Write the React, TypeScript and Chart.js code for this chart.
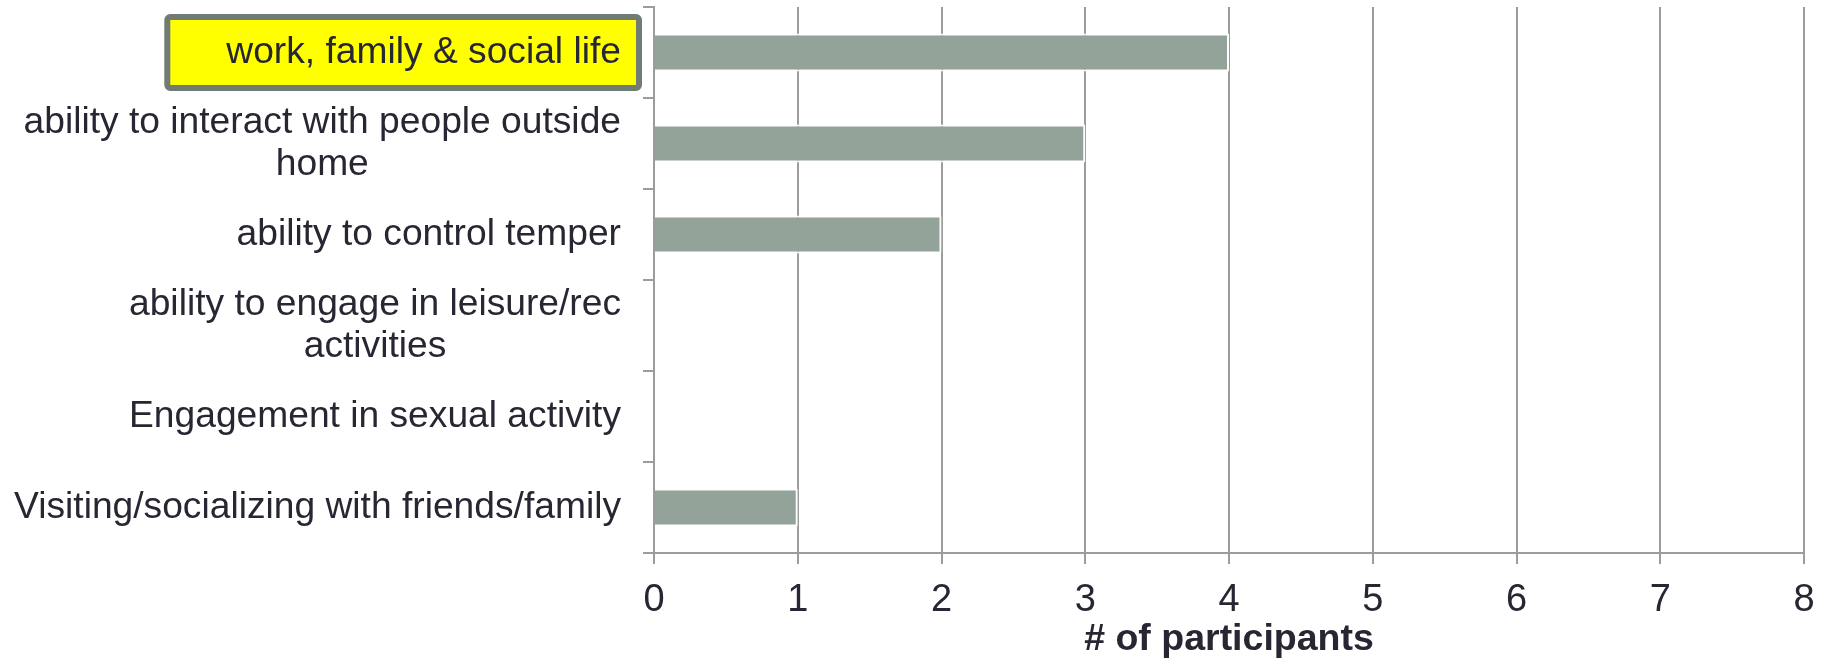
import React, { useEffect, useRef } from "react";
import { Chart, registerables } from "chart.js";

Chart.register(...registerables);

// Category labels (one entry per line of the wrapped label)
const categories: string[][] = [
  ["work, family & social life"],
  ["ability to interact with people outside", "home"],
  ["ability to control temper"],
  ["ability to engage in leisure/rec", "activities"],
  ["Engagement in sexual activity"],
  ["Visiting/socializing with friends/family"],
];

// Number of participants per category
const participants: number[] = [4, 3, 2, 0, 0, 1];

// Value axis ticks
const xTicks: number[] = [0, 1, 2, 3, 4, 5, 6, 7, 8];

// Categories shown with a highlighted label
const highlighted: number[] = [0];

const xTitle = "# of participants";

const FONT = "'Liberation Sans', Arial, Helvetica, sans-serif";
const TEXT = "#272733";
const GRID = "#9c9c9c";
const BAR = "#93a399";
const LABEL_SIZE = 37.2;
const LINE_HEIGHT = 42;
const TICK_LEN = 11;
const LABEL_GAP = 22;

// Draws the wrapped category labels: each block is right-aligned against the
// axis, and the lines inside a block are centred on one another.
const categoryLabels = {
  id: "categoryLabels",
  afterDraw(chart: any) {
    const y = chart.scales.y;
    const ctx: CanvasRenderingContext2D = chart.ctx;
    const right = y.right - TICK_LEN - LABEL_GAP;
    ctx.save();
    ctx.font = `${LABEL_SIZE}px ${FONT}`;
    categories.forEach((lines, i) => {
      const cy = y.getPixelForValue(i);
      const blockW = Math.max(...lines.map((l) => ctx.measureText(l).width));
      const center = right - blockW / 2;
      const first = cy - ((lines.length - 1) * LINE_HEIGHT) / 2;

      if (highlighted.includes(i)) {
        const left = right - blockW - 59;
        const boxRight = right + 18;
        ctx.beginPath();
        ctx.roundRect(left, cy - 35.5, boxRight - left, 71, 3);
        ctx.fillStyle = "#ffff00";
        ctx.fill();
        ctx.lineWidth = 6;
        ctx.strokeStyle = "#6f7b73";
        ctx.stroke();
      }

      ctx.fillStyle = TEXT;
      ctx.textAlign = "center";
      ctx.textBaseline = "middle";
      lines.forEach((line, k) => ctx.fillText(line, center, first + k * LINE_HEIGHT));
    });
    ctx.restore();
  },
};

export default function App() {
  const canvasRef = useRef<HTMLCanvasElement | null>(null);

  useEffect(() => {
    if (!canvasRef.current) return;
    const chart = new Chart(canvasRef.current, {
      type: "bar",
      data: {
        labels: categories.map((c) => c.join(" ")),
        datasets: [
          {
            data: participants,
            backgroundColor: BAR,
            borderColor: "#ffffff",
            borderWidth: 2,
            borderSkipped: "start",
            barPercentage: 0.415,
            categoryPercentage: 1,
          },
        ],
      },
      options: {
        indexAxis: "y",
        responsive: false,
        animation: false,
        devicePixelRatio: 1,
        layout: { padding: { top: 7, right: 22, left: 0, bottom: 0 } },
        plugins: {
          legend: { display: false },
          tooltip: { enabled: false },
        },
        scales: {
          x: {
            min: 0,
            max: 8,
            afterFit: (s: any) => {
              s.height = 107;
              s.paddingLeft = 0;
              s.paddingRight = 0;
            },
            afterBuildTicks: (s: any) => {
              s.ticks = xTicks.map((v) => ({ value: v }));
            },
            grid: { color: GRID, lineWidth: 2, tickLength: TICK_LEN, drawTicks: true },
            border: { color: GRID, width: 2 },
            ticks: {
              font: { size: 38, family: FONT },
              color: TEXT,
              padding: 14,
              maxRotation: 0,
            },
            title: {
              display: true,
              text: xTitle,
              color: TEXT,
              font: { size: 37.5, weight: "bold", family: FONT, lineHeight: 1.1 },
              padding: { top: 0, bottom: 0 },
            },
          },
          y: {
            z: 1,
            afterFit: (s: any) => {
              s.width = 654;
            },
            grid: {
              drawOnChartArea: false,
              color: GRID,
              lineWidth: 2,
              tickLength: TICK_LEN,
              offset: true,
            },
            border: { color: GRID, width: 2 },
            ticks: { display: false },
          },
        },
      },
      plugins: [categoryLabels],
    } as any);
    return () => chart.destroy();
  }, []);

  return (
    <div style={{ position: "absolute", left: 0, top: 0, width: 1826, height: 660, background: "#fff" }}>
      <canvas ref={canvasRef} width={1826} height={660} style={{ display: "block" }} />
    </div>
  );
}
